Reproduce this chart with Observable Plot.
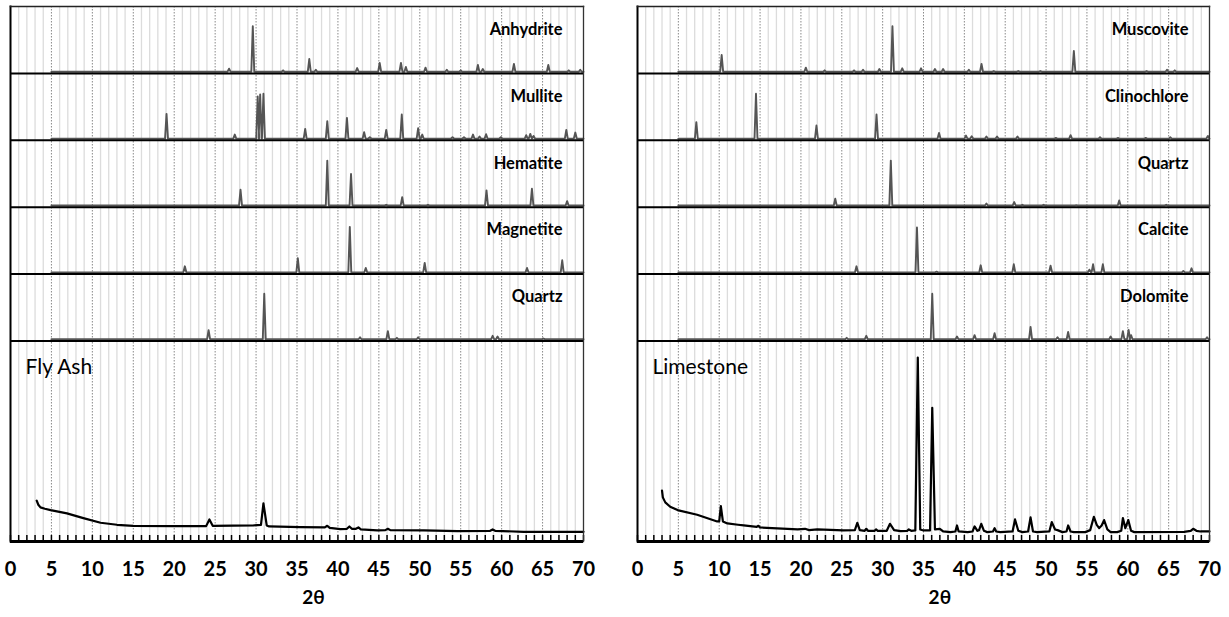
<!DOCTYPE html>
<html>
<head>
<meta charset="utf-8">
<script src="https://cdn.jsdelivr.net/npm/d3@7"></script>
<script src="https://cdn.jsdelivr.net/npm/@observablehq/plot@0.6"></script>
<style>
  html, body { margin: 0; padding: 0; background: #fff; }
  #wrap { display: flex; width: 1229px; height: 617px; }
  #wrap svg { display: block; }
</style>
</head>
<body>
<div id="wrap"></div>
<script>
// ---- X axis ----
const xTicks = [0, 5, 10, 15, 20, 25, 30, 35, 40, 45, 50, 55, 60, 65, 70];
const axisTitle = "2θ";

// ---- Reference phase patterns: [2θ, relative intensity] ----
const anhydritePeaks = [[26.7,0.045],[29.6,0.68],[33.3,0.02],[36.5,0.19],[37.3,0.03],[42.35,0.055],[45.1,0.13],[47.7,0.13],[48.3,0.07],[50.7,0.06],[53.3,0.03],[55.0,0.02],[57.1,0.10],[57.7,0.04],[61.5,0.115],[65.7,0.10],[68.2,0.02],[69.6,0.03]];
const mullitePeaks = [[19.06,0.37],[27.4,0.06],[30.2,0.63],[30.5,0.66],[30.9,0.67],[36.0,0.145],[38.7,0.26],[41.1,0.31],[43.2,0.095],[43.9,0.02],[45.9,0.13],[47.8,0.36],[49.8,0.155],[50.3,0.06],[54.0,0.02],[55.4,0.02],[56.5,0.06],[57.3,0.03],[58.1,0.065],[59.9,0.02],[63.0,0.05],[63.5,0.07],[63.9,0.04],[67.9,0.13],[69.0,0.09]];
const hematitePeaks = [[28.1,0.235],[38.7,0.67],[41.6,0.47],[45.9,0.01],[47.85,0.125],[51.0,0.01],[58.15,0.225],[63.7,0.25],[68.0,0.065]];
const magnetitePeaks = [[21.3,0.09],[35.1,0.21],[41.45,0.68],[43.4,0.065],[50.6,0.14],[63.1,0.065],[67.4,0.18]];
const quartzPeaks = [[24.2,0.135],[31.0,0.68],[42.7,0.03],[46.1,0.12],[47.2,0.02],[49.8,0.03],[58.9,0.05],[59.5,0.04],[65.1,0.01]];
const muscovitePeaks = [[10.3,0.25],[20.6,0.06],[22.9,0.02],[26.5,0.02],[27.6,0.03],[29.6,0.04],[31.2,0.68],[32.4,0.05],[34.7,0.05],[36.4,0.04],[37.4,0.04],[40.55,0.03],[42.1,0.115],[43.6,0.01],[46.6,0.01],[49.3,0.01],[53.4,0.31],[62.3,0.01],[64.8,0.03],[65.75,0.02]];
const clinochlorePeaks = [[7.2,0.245],[14.5,0.67],[21.9,0.195],[29.25,0.36],[36.9,0.085],[40.2,0.045],[40.9,0.035],[42.7,0.03],[44.0,0.03],[46.5,0.03],[51.2,0.01],[53.0,0.05],[56.6,0.02],[58.8,0.01],[62.2,0.01],[65.2,0.02],[69.8,0.04]];
const quartzPeaksLs = [[24.2,0.10],[31.0,0.67],[42.7,0.03],[46.1,0.05],[47.1,0.01],[49.7,0.01],[53.7,0.005],[58.95,0.075],[64.7,0.01]];
const calcitePeaks = [[26.8,0.09],[34.2,0.67],[36.6,0.01],[42.0,0.105],[46.05,0.12],[50.55,0.10],[55.3,0.04],[55.75,0.12],[56.95,0.12],[66.8,0.02],[67.8,0.06]];
const dolomitePeaks = [[25.6,0.02],[28.0,0.05],[36.07,0.68],[39.1,0.04],[41.25,0.06],[43.7,0.09],[48.1,0.185],[51.4,0.03],[52.7,0.11],[57.9,0.04],[59.4,0.12],[60.1,0.14],[60.4,0.06],[69.7,0.03]];

// Phase names, top strip first
const flyAshPhases = ["Anhydrite", "Mullite", "Hematite", "Magnetite", "Quartz"];
const limestonePhases = ["Muscovite", "Clinochlore", "Quartz", "Calcite", "Dolomite"];

// ---- Measured patterns: [2θ, intensity] ----
const flyAshTrace = [[3.2,0.61],[3.4,0.55],[3.66,0.51],[4.2,0.49],[4.9,0.47],[6.9,0.42],[8.9,0.35],[11,0.28],[13,0.25],[15,0.235],[20,0.23],[23.9,0.23],[24.3,0.33],[24.7,0.235],[29.7,0.24],[30.6,0.25],[30.9,0.57],[31.3,0.24],[31.6,0.225],[35.4,0.215],[38.4,0.21],[38.7,0.235],[39.0,0.205],[40.3,0.185],[41.1,0.19],[41.4,0.225],[41.7,0.19],[42.2,0.19],[42.5,0.21],[42.8,0.18],[44.8,0.165],[45.8,0.17],[46.1,0.19],[46.4,0.17],[50.5,0.165],[54.6,0.155],[58.6,0.16],[58.9,0.18],[59.2,0.16],[62.7,0.145],[70,0.145]];
const limestoneTrace = [[3.0,0.76],[3.1,0.66],[3.4,0.585],[4.0,0.52],[4.9,0.47],[7.3,0.40],[9.75,0.30],[10.0,0.30],[10.2,0.53],[10.45,0.30],[11.0,0.27],[12.3,0.25],[13,0.24],[14.6,0.22],[14.8,0.235],[15.0,0.21],[19.6,0.18],[20.5,0.19],[21.0,0.17],[22.0,0.18],[25.2,0.165],[26.6,0.17],[26.9,0.28],[27.2,0.17],[27.8,0.16],[28.0,0.19],[28.2,0.16],[29.0,0.16],[29.2,0.18],[29.4,0.16],[30.5,0.16],[30.9,0.265],[31.4,0.17],[32.2,0.155],[33.0,0.16],[33.2,0.18],[33.5,0.16],[34.0,0.165],[34.3,2.75],[34.6,0.18],[35.0,0.165],[35.8,0.165],[36.07,2.0],[36.4,0.18],[37.0,0.19],[37.4,0.15],[38.3,0.14],[38.9,0.15],[39.1,0.24],[39.3,0.15],[40.4,0.14],[41.0,0.15],[41.25,0.225],[41.6,0.16],[41.8,0.17],[42.07,0.265],[42.4,0.16],[42.8,0.14],[43.5,0.15],[43.7,0.2],[43.9,0.15],[44.4,0.14],[45.9,0.15],[46.2,0.33],[46.6,0.16],[47.1,0.14],[47.8,0.15],[48.1,0.36],[48.4,0.15],[48.9,0.14],[50.4,0.15],[50.7,0.29],[51.1,0.18],[51.4,0.17],[52.0,0.14],[52.5,0.15],[52.7,0.24],[53.0,0.15],[53.4,0.14],[54.8,0.14],[55.4,0.17],[55.85,0.37],[56.2,0.25],[56.5,0.2],[56.8,0.24],[57.1,0.32],[57.5,0.18],[57.9,0.14],[58.7,0.14],[59.2,0.16],[59.4,0.35],[59.7,0.2],[60.06,0.32],[60.4,0.16],[60.8,0.14],[66.9,0.145],[67.7,0.16],[68.0,0.19],[68.4,0.16],[68.9,0.15],[70,0.15]];

// ---- Layout ----
const H = 617, MT = 6, MB = 76;
const plotH = H - MT - MB;
const sampleRows = 3;           // measured pattern occupies three strip heights
const font = "Lato, 'Open Sans', sans-serif";

// Turn a stick list into a profile sitting on its strip baseline
function profile(name, peaks, base) {
  const w = 0.18;
  const pts = [{phase: name, x: 5, y: base}];
  for (const [x, h] of [...peaks].sort((a, b) => a[0] - b[0])) {
    pts.push({phase: name, x: x - w, y: base}, {phase: name, x, y: base + h}, {phase: name, x: x + w, y: base});
  }
  pts.push({phase: name, x: 70, y: base});
  return pts;
}

function panel({width, marginLeft, marginRight, names, peakLists, trace, sample}) {
  const n = names.length;
  const top = sampleRows + n;
  const strips = names.map((name, i) => ({name, bottom: top - 1 - i, top: top - i}));
  const refPts = strips.flatMap((s, i) => profile(s.name, peakLists[i], s.bottom + 0.025));
  const measured = trace.map(([x, y]) => ({x, y}));
  const xs = d3.range(0, 71);
  const minor = xs.filter(d => d % 5 !== 0);
  const major = xs.filter(d => d % 5 === 0 && d > 0 && d < 70);
  return Plot.plot({
    width, height: H,
    marginTop: MT, marginBottom: MB, marginLeft, marginRight,
    x: {domain: [0, 70], label: null},
    y: {domain: [0, top], axis: null},
    style: {fontFamily: font, background: "#fff", overflow: "visible"},
    marks: [
      Plot.ruleX(minor, {stroke: "#dcdcdc", strokeWidth: 1.3}),
      Plot.ruleX(major, {stroke: "#8a8a8a", strokeWidth: 1, strokeDasharray: "1.5,1.5"}),
      Plot.line(refPts, {x: "x", y: "y", z: "phase", stroke: "#555", strokeWidth: 1.9, strokeLinejoin: "round"}),
      Plot.line(measured, {x: "x", y: "y", stroke: "#000", strokeWidth: 2.2, strokeLinejoin: "round"}),
      Plot.ruleY(d3.range(sampleRows, top), {stroke: "#000", strokeWidth: 2}),
      Plot.ruleY([0], {stroke: "#000", strokeWidth: 3}),
      Plot.ruleX(xs, {stroke: "#000", strokeWidth: 1.5, insetTop: plotH - 6}),
      Plot.frame({anchor: "left", stroke: "#000", strokeWidth: 2}),
      Plot.frame({anchor: "top", stroke: "#222", strokeWidth: 1.5}),
      Plot.frame({anchor: "right", stroke: "#333", strokeWidth: 1.3}),
      Plot.axisX({ticks: xTicks, tickSize: 0, tickPadding: 20, fontSize: 20, fontWeight: "bold", fill: "#000", tickFormat: d => String(d), label: null}),
      Plot.text([axisTitle], {x: () => 37, text: d => d, frameAnchor: "bottom", dy: 62, fontSize: 19, fontWeight: "bold", fill: "#000"}),
      Plot.text(strips, {x: () => 70, y: "top", text: "name", textAnchor: "end", dx: -21, dy: 23, fontSize: 16.5, fontWeight: "bold", fill: "#000"}),
      Plot.text([sample], {x: () => 0, y: () => sampleRows, text: d => d, textAnchor: "start", dx: 15, dy: 26, fontSize: 21, fill: "#000"})
    ]
  });
}

const wrap = document.getElementById("wrap");
wrap.append(panel({
  width: 614, marginLeft: 10, marginRight: 31,
  names: flyAshPhases,
  peakLists: [anhydritePeaks, mullitePeaks, hematitePeaks, magnetitePeaks, quartzPeaks],
  trace: flyAshTrace, sample: "Fly Ash"
}));
wrap.append(panel({
  width: 615, marginLeft: 23, marginRight: 20,
  names: limestonePhases,
  peakLists: [muscovitePeaks, clinochlorePeaks, quartzPeaksLs, calcitePeaks, dolomitePeaks],
  trace: limestoneTrace, sample: "Limestone"
}));
</script>
</body>
</html>
